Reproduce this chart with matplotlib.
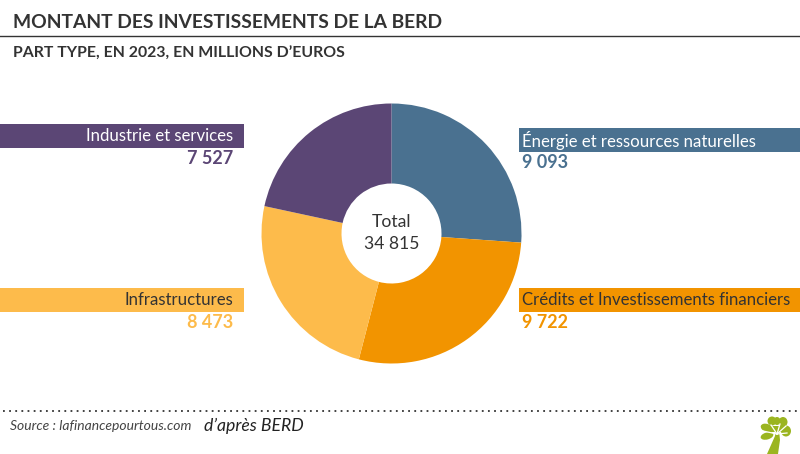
import matplotlib
matplotlib.use("Agg")
import matplotlib.pyplot as plt
from matplotlib.patches import Ellipse, Polygon, Rectangle

plt.rcParams["font.family"] = ["Lato", "DejaVu Sans"]

categories = ["Énergie et ressources naturelles", "Crédits et Investissements financiers", "Infrastructures", "Industrie et services"]
values = [9093, 9722, 8473, 7527]
value_labels = ["9 093", "9 722", "8 473", "7 527"]
colors = ["#4A7190", "#F29400", "#FDBB4B", "#5B4675"]
name_colors = ["white", "#333333", "#333333", "white"]
total_label = "Total\n34 815"

W, H = 800, 454
TEXT = "#333333"

fig = plt.figure(figsize=(W / 100, H / 100), dpi=100, facecolor="white")

# background axes in pixel coordinates
bg = fig.add_axes([0, 0, 1, 1])
bg.set_xlim(0, W)
bg.set_ylim(H, 0)
bg.axis("off")

# title and subtitle
bg.text(13, 22, "MONTANT DES INVESTISSEMENTS DE LA BERD", fontsize=13.85, fontweight="bold",
        color=TEXT, va="center", ha="left")
bg.plot([0, W], [36, 36], color="#333333", lw=1)
bg.text(13, 53.5, "PART TYPE, EN 2023, EN MILLIONS D’EUROS", fontsize=11.4, fontweight="bold",
        color=TEXT, va="center", ha="left")

# label bands: (x0, x1, y band top, text x, align)
bands = [
    (519, 800, 128, 522, "left"),
    (519, 800, 288, 522, "left"),
    (0, 244, 288, 233, "right"),
    (0, 244, 124, 233, "right"),
]
for (x0, x1, y, tx, ha), name, val, c, nc in zip(bands, categories, value_labels, colors, name_colors):
    bg.add_patch(Rectangle((x0, y), x1 - x0, 24, color=c, lw=0))
    bg.text(tx, y + 12, name, fontsize=12.1, color=nc, va="center", ha=ha)
    bg.text(tx, y + 34.5, val, fontsize=13, color=c, va="center", ha=ha, fontweight="bold")

# footer
bg.plot([3, W], [411, 411], color="#333333", lw=1.3, ls=(0, (1, 2.4)))
bg.text(10, 426, "Source : lafinancepourtous.com", fontsize=10, style="italic", color="#444444",
        va="center", ha="left")
bg.text(204, 425.5, "d’après BERD", fontsize=12.7, style="italic", color="#222222",
        va="center", ha="left")

# logo
green = "#9BB520"
bg.add_patch(Polygon([(767, 454), (771, 445), (775, 436), (776, 430), (779, 430), (780, 440), (778, 454)],
                     color=green, lw=0))
for lx, ly, w, h, a in [(767, 428, 13, 8, 20), (767, 436, 13, 7, -15), (772, 421, 9, 9, 0), (777, 421, 7, 8, 0),
                        (783, 422, 9, 10, 0), (786, 431, 10, 11, 0)]:
    bg.add_patch(Ellipse((lx, ly), w, h, angle=a, color=green, lw=0))
bg.add_patch(Rectangle((770, 426), 14, 6, color=green, lw=0))
for x1, y1 in [(763, 431), (771, 425), (780, 424), (786, 426), (787, 433)]:
    bg.plot([777, x1], [434, y1], color="white", lw=0.9)

# donut
cx, cy, r = 391.5, 233.5, 130
pie_ax = fig.add_axes([(cx - r) / W, 1 - (cy + r) / H, 2 * r / W, 2 * r / H])
pie_ax.pie(values, colors=colors, startangle=90, counterclock=False, radius=1,
           wedgeprops=dict(width=1 - 50 / 130, linewidth=0))
pie_ax.set_xlim(-1, 1)
pie_ax.set_ylim(-1, 1)
pie_ax.text(0, 0.005, total_label, fontsize=12.6, color=TEXT, ha="center", va="center", linespacing=1.45)

fig.savefig("out.png", dpi=100)
